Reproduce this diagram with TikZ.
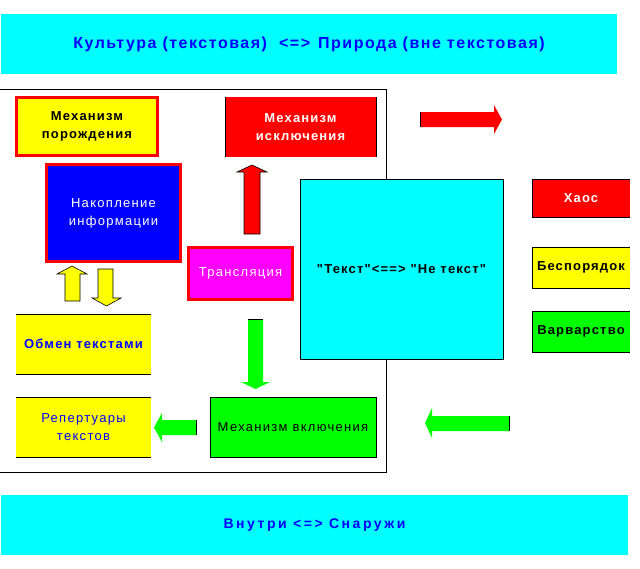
\documentclass[tikz,border=0pt]{standalone}
\usepackage{fontspec}
\setmainfont{Liberation Sans}
\newfontfamily\regsp[LetterSpace=10]{Liberation Sans}
\newfontfamily\boldsp[LetterSpace=9]{Liberation Sans Bold}
\newfontfamily\topfont[LetterSpace=9.5]{Liberation Sans Bold}
\newfontfamily\botfont[LetterSpace=18]{Liberation Sans Bold}
\definecolor{cy}{RGB}{0,255,255}
\definecolor{ye}{RGB}{255,255,0}
\definecolor{re}{RGB}{255,0,0}
\definecolor{bl}{RGB}{0,0,255}
\definecolor{ma}{RGB}{255,0,255}
\definecolor{gr}{RGB}{0,255,0}
\tikzset{
  every node/.style={inner sep=0pt, outer sep=0pt, align=center},
  band/.style={fill=cy, text=bl},
  redframe/.style={draw=re, line width=3pt},
  thinframe/.style={draw=black, line width=1pt},
  regtext/.style={font=\regsp\fontsize{13}{18}\selectfont},
  boldtext/.style={font=\boldsp\fontsize{13}{18}\selectfont},
  blockarrow/.style={draw=black, line width=0.6pt},
  edge/.style={draw=black, line width=1pt},
}
\begin{document}
\begin{tikzpicture}[x=1pt,y=-1pt]
\useasboundingbox (0,0) rectangle (640,568);
% bands
\node[band, font=\topfont\fontsize{16}{18}\selectfont, minimum width=616pt, minimum height=60pt] (top) at (309,44)
  {Культура (текстовая)\hspace{12pt}<=>\hspace{8pt}Природа (вне текстовая)};
\node[band, font=\botfont\fontsize{14}{18}\selectfont, minimum width=627pt, minimum height=60pt] (bottom) at (314.5,525)
  {Внутри <=> Снаружи};
% frame
\coordinate (f1) at (0,89);
\coordinate (f2) at (386,89);
\coordinate (f3) at (386,472);
\coordinate (f4) at (0,472);
\draw[line width=1pt] (f1) -- (f2) -- (f3) -- (f4);
% boxes
\node[redframe, fill=ye, boldtext, minimum width=141pt, minimum height=58pt] (gen) at (87,126.5)
  {Механизм\\порождения};
\node[fill=re, text=white, boldtext, minimum width=151pt, minimum height=60pt] (excl) at (300.5,127)
  {Механизм\\исключения};
\draw[edge] (excl.north west) -- (excl.south west);
\draw[edge] (excl.north east) -- (excl.south east);
\node[redframe, fill=bl, text=white, regtext, minimum width=134pt, minimum height=97pt] (nak) at (113.5,213)
  {Накопление\\информации};
\node[redframe, fill=ma, text=white, regtext, minimum width=104pt, minimum height=52pt] (trans) at (240.5,273.5)
  {Трансляция};
\node[thinframe, fill=cy, boldtext, minimum width=203pt, minimum height=180pt] (txt) at (401.5,269)
  {"Текст"<==> "Не текст"};
\node[fill=re, text=white, boldtext, minimum width=98pt, minimum height=38pt] (chaos) at (581,198)
  {Хаос};
\node[fill=ye, boldtext, minimum width=98pt, minimum height=41pt] (besp) at (581,267.5)
  {Беспорядок};
\node[fill=gr, boldtext, minimum width=98pt, minimum height=41pt] (varv) at (581,331.5)
  {Варварство};
\foreach \b in {chaos,besp,varv}{
  \draw[edge] (\b.north east) -- (\b.north west) -- (\b.south west) -- (\b.south east);
}
\node[fill=ye, text=bl, boldtext, minimum width=135pt, minimum height=60pt] (obmen) at (83.5,344)
  {Обмен текстами};
\node[fill=ye, text=bl, regtext, minimum width=135pt, minimum height=60pt] (rep) at (83.5,427)
  {Репертуары\\текстов};
\foreach \b in {obmen,rep}{
  \draw[edge] (\b.north west) -- (\b.north east);
  \draw[edge] (\b.south west) -- (\b.south east);
}
\node[thinframe, fill=gr, regtext, minimum width=166pt, minimum height=60pt] (vkl) at (293,427)
  {Механизм включения};
% block arrows
\draw[blockarrow, fill=re] (244,234) -- (244,172) -- (237,172) -- (252,165) -- (267,172) -- (260,172) -- (260,234) -- cycle;
\draw[blockarrow, fill=ye] (65,301) -- (65,274) -- (57,274) -- (72,266) -- (87,274) -- (80,274) -- (80,301) -- cycle;
\draw[blockarrow, fill=ye] (98,269) -- (98,298) -- (92,298) -- (106.5,306) -- (121,298) -- (113,298) -- (113,269) -- cycle;
\fill[gr] (248,319) -- (248,382) -- (241,382) -- (255.5,389) -- (270,382) -- (263,382) -- (263,319) -- cycle;
\draw[edge] (248,319) -- (263,319);
\fill[gr] (196,420) -- (162,420) -- (162,413) -- (154,427.5) -- (162,442) -- (162,435) -- (196,435) -- cycle;
\draw[edge] (196,420) -- (196,435);
\fill[gr] (509,416) -- (432,416) -- (432,408) -- (425,423) -- (432,438) -- (432,431) -- (509,431) -- cycle;
\draw[edge] (509,416) -- (509,431);
\fill[re] (420,112) -- (494,112) -- (494,105) -- (502,119.5) -- (494,134) -- (494,127) -- (420,127) -- cycle;
\draw[edge] (420,112) -- (420,127);
\end{tikzpicture}
\end{document}
